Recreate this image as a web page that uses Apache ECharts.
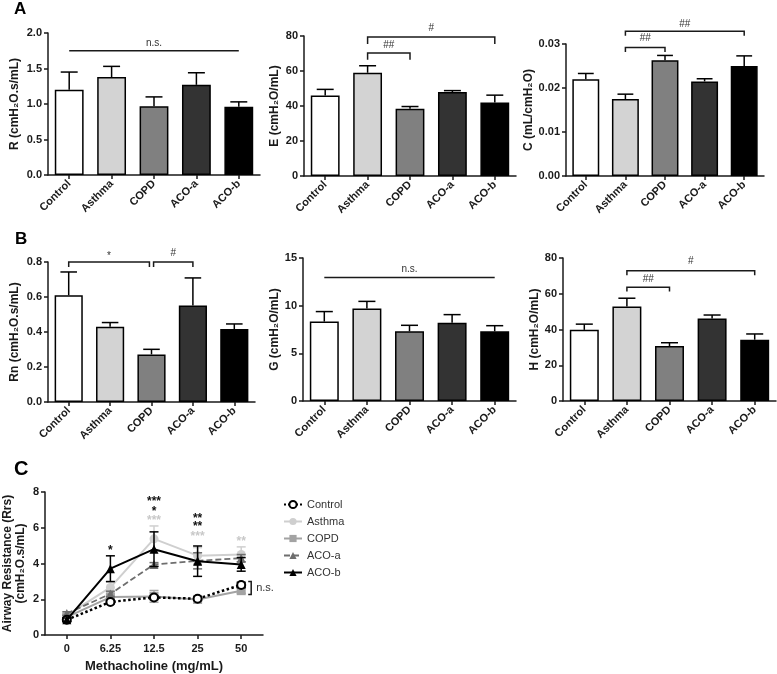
<!DOCTYPE html>
<html><head><meta charset="utf-8">
<script src="https://cdn.jsdelivr.net/npm/echarts@6/dist/echarts.min.js"></script>
<style>html,body{margin:0;padding:0;background:#fff}#c{width:777px;height:674px}</style>
</head><body><div id="c"></div>
<script>
// ---------- data ----------
const categories = ['Control', 'Asthma', 'COPD', 'ACO-a', 'ACO-b'];
const R_mean  = [1.20, 1.38, 0.97, 1.27, 0.96];
const R_sem   = [0.25, 0.15, 0.13, 0.17, 0.07];
const E_mean  = [46, 59, 38.5, 48, 42];
const E_sem   = [3.5, 4.0, 1.2, 0.8, 4.2];
const C_mean  = [0.0220, 0.0175, 0.0263, 0.0215, 0.0250];
const C_sem   = [0.0013, 0.0011, 0.0011, 0.0006, 0.0023];
const Rn_mean = [0.61, 0.43, 0.272, 0.552, 0.417];
const Rn_sem  = [0.133, 0.024, 0.029, 0.157, 0.029];
const G_mean  = [8.33, 9.70, 7.31, 8.22, 7.31];
const G_sem   = [1.05, 0.75, 0.63, 0.84, 0.59];
const H_mean  = [39.8, 52.8, 30.7, 46.1, 34.3];
const H_sem   = [3.2, 4.7, 1.9, 2.0, 3.2];

const doses = ['0', '6.25', '12.5', '25', '50'];
const rrs_control = [0.85, 1.85, 2.10, 2.03, 2.80];
const sem_control = [0.10, 0.10, 0.10, 0.08, 0.15];
const rrs_asthma  = [1.10, 2.66, 5.38, 4.44, 4.51];
const sem_asthma  = [0.10, 0.30, 0.72, 0.45, 0.42];
const rrs_copd    = [1.00, 2.12, 2.16, 1.99, 2.48];
const sem_copd    = [0.10, 0.10, 0.33, 0.10, 0.15];
const rrs_acoa    = [1.20, 2.30, 3.95, 4.15, 4.30];
const sem_acoa    = [0.10, 0.15, 0.10, 0.45, 0.20];
const rrs_acob    = [0.85, 3.71, 4.80, 4.13, 3.95];
const sem_acob    = [0.10, 0.72, 0.97, 0.85, 0.38];

// significance: [fromCat, toCat, lineY, tipY, labelY, label]
const sig_R  = [[0, 4, 1.75, 1.75, 1.86, 'n.s.']];
const sig_E  = [[1, 2, 70.3, 66.5, 74.7, '##'], [1, 4, 79.4, 75.5, 84.2, '#']];
const sig_C  = [[1, 2, 0.0292, 0.0282, 0.0312, '##'], [1, 4, 0.0329, 0.0319, 0.0346, '##']];
const sig_Rn = [[0, 1.95, 0.80, 0.771, 0.848, '*'], [2.05, 3, 0.80, 0.771, 0.848, '#']];
const sig_G  = [[0, 4, 12.96, 12.96, 13.77, 'n.s.']];
const sig_H  = [[1, 2, 63.7, 61.3, 68.2, '##'], [1, 4, 72.9, 70.3, 78.1, '#']];
// dose-response stars: [doseIndex, y, text, group]
const stars_C = [[1, 4.87, '*', 'ACO-b'], [2, 7.6, '***', 'ACO-b'], [2, 7.05, '*', 'ACO-b'], [2, 6.58, '***', 'Asthma'],
                 [3, 6.68, '**', 'ACO-b'], [3, 6.2, '**', 'ACO-b'], [3, 5.65, '***', 'Asthma'], [4, 5.38, '**', 'Asthma']];
const ns_C = [[4, 2.27, 2.99, 'n.s.']];

// ---------- styles ----------
const FONT = '"Liberation Sans", Arial, sans-serif';
const barColors = ['#ffffff', '#d3d3d3', '#808080', '#333333', '#000000'];
const ink = '#1a1a1a';

const grids = [
  {left: 48,  top: 33,  width: 212, height: 142},
  {left: 304, top: 36,  width: 212, height: 140},
  {left: 566, top: 44,  width: 198, height: 132},
  {left: 48,  top: 262, width: 207, height: 140},
  {left: 303, top: 258, width: 213, height: 143},
  {left: 563, top: 258, width: 213, height: 143},
  {left: 43,  top: 492, width: 220, height: 147}
];

const panels = [
  {mean: R_mean,  sem: R_sem,  max: 2.0,  interval: 0.5,  dec: 1, name: 'R (cmH₂O.s/mL)',  gap: 27, sig: sig_R},
  {mean: E_mean,  sem: E_sem,  max: 80,   interval: 20,   dec: 0, name: 'E (cmH₂O/mL)',    gap: 23, sig: sig_E},
  {mean: C_mean,  sem: C_sem,  max: 0.03, interval: 0.01, dec: 2, name: 'C (mL/cmH₂O)',    gap: 27, sig: sig_C},
  {mean: Rn_mean, sem: Rn_sem, max: 0.8,  interval: 0.2,  dec: 1, name: 'Rn (cmH₂O.s/mL)', gap: 27, sig: sig_Rn},
  {mean: G_mean,  sem: G_sem,  max: 15,   interval: 5,    dec: 0, name: 'G (cmH₂O/mL)',    gap: 22, sig: sig_G},
  {mean: H_mean,  sem: H_sem,  max: 80,   interval: 20,   dec: 0, name: 'H (cmH₂O/mL)',    gap: 22, sig: sig_H}
];

const axisLine = {show: true, lineStyle: {color: ink, width: 1.5}};
const axisTick = {show: true, length: 4, lineStyle: {color: ink, width: 1.5}};

const xAxes = [], yAxes = [], series = [];

panels.forEach((p, i) => {
  xAxes.push({
    type: 'category', gridIndex: i, data: categories, boundaryGap: true,
    axisLine, axisTick: Object.assign({alignWithLabel: true}, axisTick),
    axisLabel: {rotate: 45, margin: 7, fontSize: 11, fontWeight: 'bold', fontFamily: FONT, color: ink, interval: 0},
    splitLine: {show: false}
  });
  yAxes.push({
    type: 'value', gridIndex: i, min: 0, max: p.max, interval: p.interval,
    axisLine, axisTick,
    axisLabel: {margin: 6, fontSize: 11, fontWeight: 'bold', fontFamily: FONT, color: ink,
                formatter: v => Number(v).toFixed(p.dec)},
    splitLine: {show: false},
    name: p.name, nameLocation: 'middle', nameGap: p.gap, nameRotate: 90,
    nameTextStyle: {fontSize: 12, fontWeight: 'bold', fontFamily: FONT, color: ink}
  });
  series.push({
    type: 'bar', xAxisIndex: i, yAxisIndex: i, barWidth: '68%',
    data: p.mean.map((v, j) => ({value: v, itemStyle: {color: barColors[j]}})),
    itemStyle: {borderColor: '#000', borderWidth: 1.5},
    silent: true, animation: false, z: 2
  });
  // upward error bars
  series.push({
    type: 'custom', xAxisIndex: i, yAxisIndex: i, clip: false, animation: false, z: 3,
    encode: {x: 0, y: [1, 2]},
    data: p.mean.map((v, j) => [j, v, v + p.sem[j]]),
    renderItem: (params, api) => {
      const a = api.coord([api.value(0), api.value(1)]);
      const b = api.coord([api.value(0), api.value(2)]);
      const w = api.size([1, 0])[0] * 0.2;
      const st = {stroke: '#000', lineWidth: 1.5};
      return {type: 'group', children: [
        {type: 'line', shape: {x1: a[0], y1: a[1], x2: b[0], y2: b[1]}, style: st},
        {type: 'line', shape: {x1: b[0] - w, y1: b[1], x2: b[0] + w, y2: b[1]}, style: st}
      ]};
    }
  });
  // significance brackets
  series.push({
    type: 'custom', xAxisIndex: i, yAxisIndex: i, clip: false, animation: false, z: 4,
    encode: {x: [0, 1], y: [2, 3, 4]},
    data: p.sig.map(s => [s[0], s[1], s[2], s[3], s[4]]),
    renderItem: (params, api) => {
      const s = p.sig[params.dataIndex];
      const lab = s[5];
      const band = api.size([1, 0])[0];
      const x0 = api.coord([Math.round(s[0]), s[2]])[0] + (s[0] - Math.round(s[0])) * band;
      const x1 = api.coord([Math.round(s[1]), s[2]])[0] + (s[1] - Math.round(s[1])) * band;
      const yl = api.coord([0, s[2]])[1];
      const yt = api.coord([0, s[3]])[1];
      const ly = api.coord([0, s[4]])[1];
      return {type: 'group', children: [
        {type: 'polyline', shape: {points: [[x0, yt], [x0, yl], [x1, yl], [x1, yt]]},
         style: {stroke: ink, lineWidth: 1.5, fill: null}},
        {type: 'text', style: {text: lab, x: (x0 + x1) / 2, y: ly + (lab.indexOf('*') >= 0 ? 3 : 0),
          align: 'center', verticalAlign: 'middle', fontSize: 10, fontFamily: FONT, fill: '#333'}}
      ]};
    }
  });
});

// ---------- panel C ----------
const gi = 6;
xAxes.push({
  type: 'category', gridIndex: gi, data: doses, boundaryGap: true,
  axisLine, axisTick: Object.assign({alignWithLabel: true}, axisTick),
  axisLabel: {margin: 8, fontSize: 11, fontWeight: 'bold', fontFamily: FONT, color: ink, interval: 0},
  name: 'Methacholine (mg/mL)', nameLocation: 'middle', nameGap: 25,
  nameTextStyle: {fontSize: 13, fontWeight: 'bold', fontFamily: FONT, color: ink}
});
yAxes.push({
  type: 'value', gridIndex: gi, min: 0, max: 8, interval: 2,
  axisLine, axisTick,
  axisLabel: {margin: 6, fontSize: 11, fontWeight: 'bold', fontFamily: FONT, color: ink},
  splitLine: {show: false},
  name: 'Airway Resistance (Rrs)\n(cmH₂O.s/mL)', nameLocation: 'middle', nameGap: 18, nameRotate: 90,
  nameTextStyle: {fontSize: 12, fontWeight: 'bold', fontFamily: FONT, color: ink, lineHeight: 13}
});

const groups = [
  {name: 'Control', y: rrs_control, e: sem_control, color: '#000000', symbol: 'emptyCircle', size: 8,
   line: {type: 'dotted', width: 2.5, color: '#000'}, item: {color: '#000', borderWidth: 2}, z: 6},
  {name: 'Asthma', y: rrs_asthma, e: sem_asthma, color: '#cfcfcf', symbol: 'circle', size: 9,
   line: {type: 'solid', width: 2, color: '#cfcfcf'}, item: {color: '#cfcfcf'}, z: 3},
  {name: 'COPD', y: rrs_copd, e: sem_copd, color: '#a3a3a3', symbol: 'rect', size: 9,
   line: {type: 'solid', width: 2, color: '#a3a3a3'}, item: {color: '#a3a3a3'}, z: 4},
  {name: 'ACO-a', y: rrs_acoa, e: sem_acoa, color: '#6e6e6e', symbol: 'triangle', size: 9,
   line: {type: [6, 3], width: 1.8, color: '#6e6e6e'}, item: {color: '#6e6e6e'}, z: 5},
  {name: 'ACO-b', y: rrs_acob, e: sem_acob, color: '#000000', symbol: 'triangle', size: 9,
   line: {type: 'solid', width: 2, color: '#000'}, item: {color: '#000'}, z: 7}
];

groups.forEach(g => {
  series.push({
    type: 'custom', xAxisIndex: gi, yAxisIndex: gi, clip: false, animation: false, z: g.z,
    encode: {x: 0, y: [1, 2]},
    data: g.y.map((v, j) => [j, v - g.e[j], v + g.e[j]]),
    renderItem: (params, api) => {
      const a = api.coord([api.value(0), api.value(1)]);
      const b = api.coord([api.value(0), api.value(2)]);
      const w = 4.5, st = {stroke: g.color, lineWidth: 1.5};
      return {type: 'group', children: [
        {type: 'line', shape: {x1: a[0], y1: a[1], x2: b[0], y2: b[1]}, style: st},
        {type: 'line', shape: {x1: a[0] - w, y1: a[1], x2: a[0] + w, y2: a[1]}, style: st},
        {type: 'line', shape: {x1: b[0] - w, y1: b[1], x2: b[0] + w, y2: b[1]}, style: st}
      ]};
    }
  });
  series.push({
    type: 'line', name: g.name, xAxisIndex: gi, yAxisIndex: gi, data: g.y,
    symbol: g.symbol, symbolSize: g.size, showAllSymbol: true,
    lineStyle: g.line, itemStyle: g.item, z: g.z, animation: false, silent: true
  });
});

const groupColor = {};
groups.forEach(g => groupColor[g.name] = g.name === 'Asthma' ? '#c8c8c8' : '#111');

series.push({
  type: 'custom', xAxisIndex: gi, yAxisIndex: gi, clip: false, animation: false, z: 10,
  encode: {x: 0, y: 1},
  data: stars_C.map(s => [s[0], s[1]]),
  renderItem: (params, api) => {
    const p = api.coord([api.value(0), api.value(1)]);
    const s = stars_C[params.dataIndex];
    return {type: 'text', style: {text: s[2], x: p[0], y: p[1] + 3, align: 'center', verticalAlign: 'middle',
      fontSize: 12, fontWeight: 'bold', fontFamily: FONT, fill: groupColor[s[3]]}};
  }
});
series.push({
  type: 'custom', xAxisIndex: gi, yAxisIndex: gi, clip: false, animation: false, z: 10,
  encode: {x: 0, y: [1, 2]},
  data: ns_C.map(s => [s[0], s[1], s[2]]),
  renderItem: (params, api) => {
    const a = api.coord([api.value(0), api.value(1)]);
    const b = api.coord([api.value(0), api.value(2)]);
    const x = a[0] + 10;
    return {type: 'group', children: [
      {type: 'polyline', shape: {points: [[x - 3, b[1]], [x, b[1]], [x, a[1]], [x - 3, a[1]]]},
       style: {stroke: ink, lineWidth: 1.5, fill: null}},
      {type: 'text', style: {text: ns_C[params.dataIndex][3], x: x + 5, y: (a[1] + b[1]) / 2, align: 'left',
        verticalAlign: 'middle', fontSize: 11, fontFamily: FONT, fill: '#333'}}
    ]};
  }
});

const option = {
  backgroundColor: '#fff',
  animation: false,
  grid: grids,
  xAxis: xAxes,
  yAxis: yAxes,
  legend: {
    data: categories, orient: 'vertical', left: 278, top: 494, itemWidth: 18, itemHeight: 9, itemGap: 6,
    textStyle: {fontSize: 11, fontFamily: FONT, color: '#333'}, selectedMode: false
  },
  graphic: [
    {type: 'text', left: 14, top: 1, style: {text: 'A', font: 'bold 17px ' + FONT, fill: '#000'}},
    {type: 'text', left: 15, top: 231, style: {text: 'B', font: 'bold 17px ' + FONT, fill: '#000'}},
    {type: 'text', left: 14, top: 459, style: {text: 'C', font: 'bold 20px ' + FONT, fill: '#000'}}
  ],
  series
};
echarts.init(document.getElementById('c'), null, {renderer: 'canvas'}).setOption(option);
</script></body></html>
